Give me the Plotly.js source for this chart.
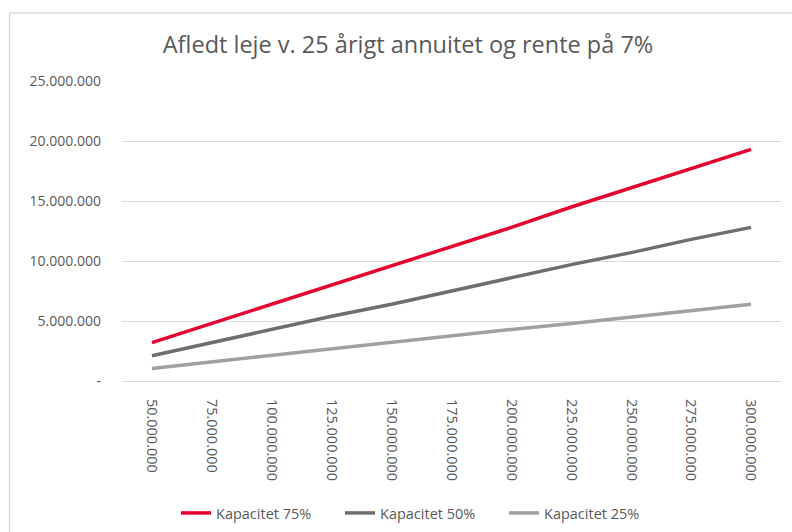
<!DOCTYPE html>
<html>
<head>
<meta charset="utf-8">
<script src="https://cdn.plot.ly/plotly-3.0.1.min.js"></script>
<style>html,body{margin:0;padding:0;background:#fff;}#chart{width:792px;height:532px;}</style>
</head>
<body>
<div id="chart"></div>
<script>
const categories = ["50.000.000","75.000.000","100.000.000","125.000.000","150.000.000","175.000.000","200.000.000","225.000.000","250.000.000","275.000.000","300.000.000"];
const kap75 = [3200000,4800000,6400000,8000000,9600000,11200000,12800000,14500000,16100000,17700000,19300000];
const kap50 = [2100000,3200000,4300000,5400000,6400000,7500000,8600000,9700000,10700000,11800000,12800000];
const kap25 = [1050000,1600000,2150000,2700000,3200000,3750000,4300000,4800000,5350000,5900000,6400000];
const seriesNames = ["Kapacitet 75%","Kapacitet 50%","Kapacitet 25%"];
const yTickVals = [0,5000000,10000000,15000000,20000000,25000000];
const yTickText = ["-","5.000.000","10.000.000","15.000.000","20.000.000","25.000.000"];
const titleText = "Afledt leje v. 25 årigt annuitet og rente på 7%";

const FONT = "'Open Sans', Roboto, 'DejaVu Sans', sans-serif";
const colors = ["#E4032E", "#6E6E6E", "#A0A0A0"];
const traces = [kap75, kap50, kap25].map((vals, i) => ({
  type: "scatter", mode: "lines", x: categories, y: vals, name: seriesNames[i],
  line: {color: colors[i], width: 3.5}, hoverinfo: "skip"
}));

const L = 122, R = 11, T = 81, B = 150.5;
const pw = 792 - L - R, ph = 532 - T - B;
const px = v => (v - L) / pw;
const py = v => (532 - B - v) / ph;

const layout = {
  width: 792, height: 532,
  margin: {l: L, r: R, t: T, b: B, pad: 0, autoexpand: false},
  paper_bgcolor: "#fff", plot_bgcolor: "#fff",
  font: {family: FONT, color: "#595959", size: 14},
  title: {text: titleText, font: {family: FONT, size: 23.5, color: "#595959"},
          x: 408/792, xanchor: "center", xref: "container", y: 1 - 45/532, yanchor: "middle", yref: "container"},
  showlegend: true,
  legend: {orientation: "h", xref: "container", yref: "container", x: 176/792, xanchor: "left",
           y: 1 - 513/532, yanchor: "middle",
           font: {family: FONT, size: 14.5, color: "#595959"}, entrywidth: 119, entrywidthmode: "pixels",
           traceorder: "normal", bgcolor: "rgba(0,0,0,0)"},
  xaxis: {type: "category", range: [-0.5, 10.5], tickangle: 90, showgrid: false,
          showline: true, linecolor: "#D9D9D9", linewidth: 1, ticks: "", zeroline: false,
          tickfont: {family: FONT, size: 14.5, color: "#595959"}, ticklabelstandoff: 14, fixedrange: true},
  yaxis: {range: [0, 25000000], tickvals: yTickVals, ticktext: yTickText, showgrid: true,
          gridcolor: "#D9D9D9", gridwidth: 1, zeroline: false, showline: false, ticks: "",
          tickfont: {family: FONT, size: 14, color: "#595959"}, ticklabelstandoff: 20, fixedrange: true},
  shapes: [
    {type: "line", xref: "paper", yref: "paper", x0: px(9.5), x1: px(9.5), y0: py(13), y1: py(540),
     line: {color: "#D9D9D9", width: 1.5}},
    {type: "line", xref: "paper", yref: "paper", x0: px(9.5), x1: px(800), y0: py(13), y1: py(13),
     line: {color: "#D9D9D9", width: 1.5}}
  ]
};

Plotly.newPlot("chart", traces, layout, {displayModeBar: false, staticPlot: true});
</script>
</body>
</html>
